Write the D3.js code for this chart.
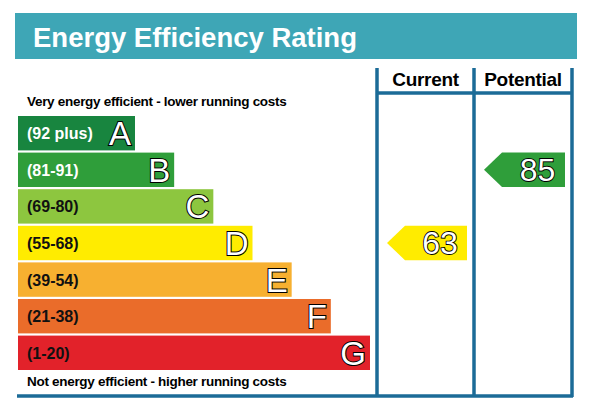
<!DOCTYPE html>
<html><head><meta charset="utf-8">
<script src="https://cdn.jsdelivr.net/npm/d3@7"></script>
<style>body{margin:0;background:#fff}svg{display:block;font-family:"Liberation Sans",Arial,sans-serif}</style>
</head><body><div id="chart"></div>
<script>
const bands = ["A", "B", "C", "D", "E", "F", "G"];
const ranges = ["(92 plus)", "(81-91)", "(69-80)", "(55-68)", "(39-54)", "(21-38)", "(1-20)"];
const lowerBounds = [92, 81, 69, 55, 39, 21, 1];
const colors = ["#18853f", "#2f9e3a", "#8dc63f", "#ffec00", "#f7b030", "#ea6c2a", "#e2222a"];
const ratings = [{label: "Current", value: 63}, {label: "Potential", value: 85}];

const W = 592, H = 412;
const svg = d3.select("#chart").append("svg").attr("width", W).attr("height", H);

// header
svg.append("rect").attr("x", 15).attr("y", 13).attr("width", 562).attr("height", 46).attr("fill", "#3ea6b6");
svg.append("text").attr("x", 33).attr("y", 47).attr("fill", "#fff").attr("font-size", 27.5).attr("font-weight", "bold").text("Energy Efficiency Rating");

const y = d3.scaleBand().domain(bands).range([116, 370]).paddingInner(0.06);
const xEnd = d3.scaleLinear().domain([0, 6]).range([135, 370]);
const bandOf = v => bands[lowerBounds.findIndex(b => v >= b)];

// bars
const rows = svg.selectAll(".row").data(bands).enter().append("g");
rows.append("rect").attr("x", 18).attr("y", d => y(d)).attr("height", y.bandwidth())
  .attr("width", (d, i) => xEnd(i) - 18).attr("fill", (d, i) => colors[i]);
rows.append("text").attr("x", 27).attr("y", d => y(d) + y.bandwidth() / 2 + 6)
  .attr("font-size", 16).attr("font-weight", "bold").attr("fill", (d, i) => i < 2 ? "#fff" : "#111")
  .text((d, i) => ranges[i]);
rows.append("text").attr("x", (d, i) => xEnd(i) - 4).attr("y", d => y(d) + y.bandwidth() / 2 + 12)
  .attr("text-anchor", "end").attr("font-size", 33).attr("fill", "#fff")
  .attr("stroke", "#000").attr("stroke-width", 2).attr("paint-order", "stroke").text(d => d);

svg.append("text").attr("x", 27).attr("y", 106).attr("font-size", 13.5).attr("font-weight", "bold").attr("letter-spacing", -0.3).text("Very energy efficient - lower running costs");
svg.append("text").attr("x", 27).attr("y", 386).attr("font-size", 13.5).attr("font-weight", "bold").attr("letter-spacing", -0.3).text("Not energy efficient - higher running costs");

// frame
const lineC = "#1b6b97";
const cols = [377, 474, 572];
cols.forEach(cx => svg.append("line").attr("x1", cx).attr("x2", cx).attr("y1", 68).attr("y2", 397).attr("stroke", lineC).attr("stroke-width", 3.5));
svg.append("line").attr("x1", 377).attr("x2", 572).attr("y1", 93).attr("y2", 93).attr("stroke", lineC).attr("stroke-width", 3.5);
svg.append("line").attr("x1", 17).attr("x2", 573).attr("y1", 396).attr("y2", 396).attr("stroke", lineC).attr("stroke-width", 3.5);

ratings.forEach((r, k) => {
  const x0 = cols[k], x1 = cols[k + 1];
  svg.append("text").attr("x", (x0 + x1) / 2).attr("y", 86).attr("text-anchor", "middle")
    .attr("font-size", 19).attr("font-weight", "bold").attr("letter-spacing", -0.3).text(r.label);
  const b = bandOf(r.value), bi = bands.indexOf(b);
  const top = y(b), h = y.bandwidth(), left = x0 + 10, right = x1 - 7;
  svg.append("path").attr("d", `M${left},${top + h / 2}L${left + 18},${top}H${right}V${top + h}H${left + 18}Z`).attr("fill", colors[bi]);
  svg.append("text").attr("x", (left + 18 + right) / 2 + 4).attr("y", top + h / 2 + 11).attr("text-anchor", "middle")
    .attr("font-size", 32).attr("fill", "#fff").attr("stroke", "#000").attr("stroke-width", 1.8)
    .attr("paint-order", "stroke").text(r.value);
});
</script></body></html>
